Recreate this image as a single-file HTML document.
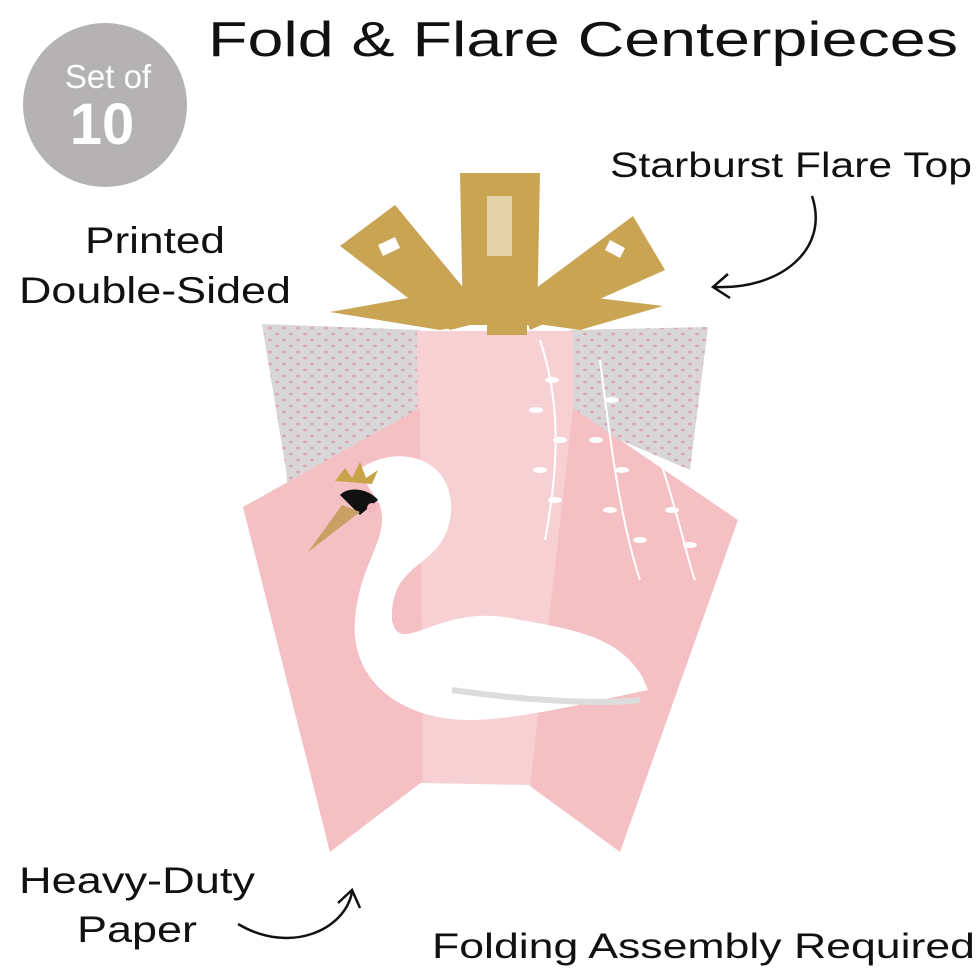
<!DOCTYPE html>
<html><head><meta charset="utf-8"><style>
body{margin:0;background:#fff;}
svg{display:block}
text{font-family:"Liberation Sans",sans-serif;fill:#111;}
</style></head><body>
<svg width="980" height="972" viewBox="0 0 980 972" xmlns="http://www.w3.org/2000/svg">
<defs>
<pattern id="dots" width="14" height="12" patternUnits="userSpaceOnUse">
<rect width="14" height="12" fill="#d9d6d8"/>
<ellipse cx="4" cy="4" rx="2" ry="1.4" fill="#d9a7b4"/>
<ellipse cx="11" cy="10" rx="2" ry="1.4" fill="#d9a7b4"/>
</pattern>
</defs>
<circle cx="105" cy="105" r="82" fill="#b4b2b2"/>
<text x="108" y="88" font-size="33" text-anchor="middle" style="fill:#fff">Set of</text>
<text x="102" y="144" font-size="58" font-weight="bold" text-anchor="middle" style="fill:#fff">10</text>
<text x="208" y="56" font-size="49" textLength="750" lengthAdjust="spacingAndGlyphs">Fold &amp; Flare Centerpieces</text>
<text x="610" y="177" font-size="35" textLength="362" lengthAdjust="spacingAndGlyphs">Starburst Flare Top</text>
<text x="85" y="253" font-size="37" textLength="140" lengthAdjust="spacingAndGlyphs">Printed</text>
<text x="19" y="303" font-size="37" textLength="272" lengthAdjust="spacingAndGlyphs">Double-Sided</text>
<text x="19" y="893" font-size="37" textLength="236" lengthAdjust="spacingAndGlyphs">Heavy-Duty</text>
<text x="77" y="942" font-size="37" textLength="120" lengthAdjust="spacingAndGlyphs">Paper</text>
<text x="432" y="958" font-size="35" textLength="543" lengthAdjust="spacingAndGlyphs">Folding Assembly Required</text>
<!-- arrows -->
<path d="M812 196 C830 250 780 290 714 287" fill="none" stroke="#111" stroke-width="2.5"/>
<path d="M728 274 L713 287 L730 298" fill="none" stroke="#111" stroke-width="2.5"/>
<path d="M238 924 C290 955 345 930 352 892" fill="none" stroke="#111" stroke-width="2.5"/>
<path d="M338 903 L352 890 L360 908" fill="none" stroke="#111" stroke-width="2.5"/>
<!-- gray back panels -->
<polygon points="262,324 420,330 420,420 290,520 286,470" fill="url(#dots)"/>
<polygon points="570,330 708,327 690,470 573,420" fill="url(#dots)"/>
<!-- center panel -->
<polygon points="417,331 573,331 580,786 420,783" fill="#f6d0d3"/>
<!-- wings -->
<polygon points="243,507 420,408 423,781 330,852" fill="#f4c0c3"/>
<polygon points="573,408 738,520 620,852 530,786" fill="#f4c0c3"/>
<!-- willow -->
<g stroke="#fff" stroke-width="2" fill="none">
<path d="M540 340 C560 400 560 460 545 540"/>
<path d="M600 360 C610 440 620 520 640 580"/>
<path d="M660 460 C680 520 690 570 695 580"/>
</g>
<g fill="#fff">
<ellipse cx="552" cy="380" rx="7" ry="3"/><ellipse cx="536" cy="410" rx="7" ry="3"/><ellipse cx="560" cy="440" rx="7" ry="3"/><ellipse cx="540" cy="470" rx="7" ry="3"/><ellipse cx="555" cy="500" rx="7" ry="3"/>
<ellipse cx="612" cy="400" rx="7" ry="3"/><ellipse cx="596" cy="440" rx="7" ry="3"/><ellipse cx="622" cy="470" rx="7" ry="3"/><ellipse cx="610" cy="510" rx="7" ry="3"/><ellipse cx="640" cy="540" rx="7" ry="3"/>
<ellipse cx="672" cy="510" rx="7" ry="3"/><ellipse cx="690" cy="545" rx="7" ry="3"/>
</g>
<!-- swan -->
<path d="M358 470 C400 440 460 460 450 520 C440 570 390 560 392 620 C400 660 440 600 520 620 C580 630 630 640 648 690 C600 700 520 720 470 720 C400 720 350 680 355 620 C360 560 390 540 380 505 Z" fill="#fff"/>
<path d="M452 690 C520 700 600 705 640 700" stroke="#dcdcdc" stroke-width="6" fill="none"/>
<path d="M340 495 C350 485 370 490 378 500 L360 515 Z" fill="#111"/>
<path d="M342 505 L308 552 L360 512 Z" fill="#c9a063"/>
<polygon points="335,481 345,468 352,478 360,462 366,478 378,470 372,484" fill="#c9a34a"/>
<circle cx="372" cy="508" r="5" fill="#f4b5bd"/>
<!-- starburst -->
<g fill="#c9a453">
<polygon points="460,173 540,173 537,325 463,325"/>
<polygon points="340,246 395,205 490,320 450,330"/>
<polygon points="633,216 665,270 530,330 520,300"/>
<polygon points="330,312 420,296 500,320 440,330"/>
<polygon points="663,306 580,296 510,320 580,330"/>
<rect x="487" y="320" width="40" height="15"/>
</g>
<g fill="#fff">
<rect x="487" y="196" width="25" height="60" opacity="0.5"/>
<polygon points="378,245 395,237 400,248 383,256"/>
<polygon points="610,240 625,248 620,258 605,250"/>
</g>
</svg>
</body></html>
